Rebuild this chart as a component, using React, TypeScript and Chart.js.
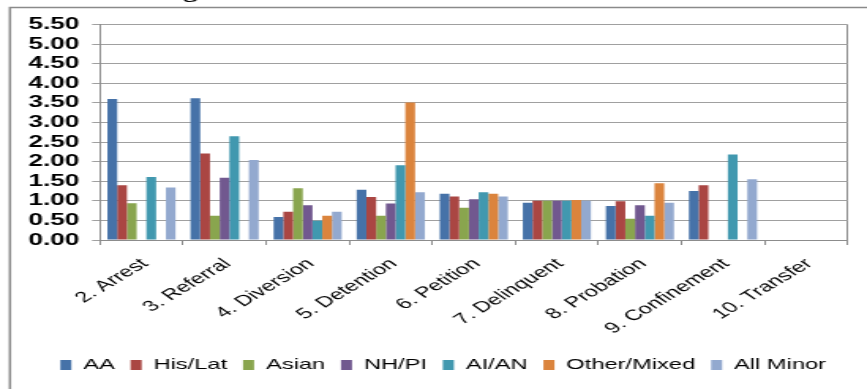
import React, { useEffect, useRef } from "react";
import { Chart, registerables } from "chart.js";

Chart.register(...registerables);

const categories = [
  "2. Arrest",
  "3. Referral",
  "4. Diversion",
  "5. Detention",
  "6. Petition",
  "7. Delinquent",
  "8. Probation",
  "9. Confinement",
  "10. Transfer",
];

const seriesNames = ["AA", "His/Lat", "Asian", "NH/PI", "AI/AN", "Other/Mixed", "All Minor"];
const seriesColors = ["#4672A8", "#AA4643", "#89A54E", "#71588F", "#4198AF", "#DB843D", "#93A9CF"];

const aa = [3.6, 3.62, 0.59, 1.28, 1.18, 0.95, 0.87, 1.25, null];
const hisLat = [1.4, 2.21, 0.72, 1.1, 1.11, 1.0, 0.99, 1.4, null];
const asian = [0.94, 0.62, 1.32, 0.62, 0.82, 1.0, 0.54, null, null];
const nhPi = [null, 1.59, 0.89, 0.93, 1.04, 1.0, 0.89, null, null];
const aiAn = [1.61, 2.65, 0.49, 1.91, 1.22, 1.0, 0.62, 2.18, null];
const otherMixed = [null, null, 0.62, 3.51, 1.18, 1.02, 1.45, null, null];
const allMinor = [1.34, 2.04, 0.72, 1.22, 1.11, 1.0, 0.95, 1.55, null];

const seriesValues = [aa, hisLat, asian, nhPi, aiAn, otherMixed, allMinor];

const yMin = 0;
const yMax = 5.5;
const yStep = 0.5;

const headerText = "Figure 1 below shows Statewide RRI";

const W = 549;
const H = 389;
const SX = 867 / W;

const framePlugin = {
  id: "frame",
  afterLayout(chart: any) {
    const lg = chart.legend;
    if (lg) {
      lg.left += 12.3;
      lg.right += 12.3;
    }
  },
  beforeDraw(chart: any) {
    const ctx = chart.ctx;
    ctx.save();
    ctx.strokeStyle = "#8a8a8a";
    ctx.lineWidth = 1.5;
    ctx.beginPath();
    ctx.moveTo(6.3, H);
    ctx.lineTo(6.3, 7.5);
    ctx.lineTo(W, 7.5);
    ctx.stroke();
    ctx.fillStyle = "#000";
    ctx.font = 'bold 18px "Liberation Serif"';
    ctx.textBaseline = "alphabetic";
    ctx.textAlign = "left";
    ctx.fillText(headerText, 100, -2);
    ctx.restore();
  },
};

export default function App() {
  const ref = useRef<HTMLCanvasElement | null>(null);

  useEffect(() => {
    if (!ref.current) return;
    const gray = "#8c8c8c";
    const chart = new Chart(ref.current, {
      type: "bar",
      data: {
        labels: categories,
        datasets: seriesNames.map((name, i) => ({
          label: name,
          data: seriesValues[i],
          backgroundColor: seriesColors[i],
          borderWidth: 0,
          barPercentage: 1,
          categoryPercentage: 0.82,
        })),
      },
      options: {
        responsive: false,
        animation: false,
        devicePixelRatio: 1,
        layout: { padding: { left: 0, right: 12.3, top: 24.5, bottom: 6.5 } },
        plugins: {
          title: { display: false },
          tooltip: { enabled: false },
          legend: {
            position: "bottom",
            labels: {
              boxWidth: 7,
              boxHeight: 10,
              padding: 10,
              color: "#000",
              font: { family: "Liberation Sans", size: 15 },
            },
          },
        },
        scales: {
          x: {
            afterFit: (s: any) => {
              s.height = 107.5;
            },
            grid: {
              offset: true,
              drawOnChartArea: true,
              drawTicks: true,
              tickLength: 5,
              color: (c: any) => (c.type === "tick" && c.index !== 0 ? "rgba(0,0,0,0)" : gray),
              tickColor: gray,
              lineWidth: 1,
            },
            border: { display: true, color: gray },
            ticks: {
              autoSkip: false,
              maxRotation: 43,
              minRotation: 43,
              padding: 10,
              labelOffset: 2,
              color: "#000",
              font: { family: "Liberation Sans", size: 15 },
            },
          },
          y: {
            min: yMin,
            max: yMax,
            afterFit: (s: any) => {
              s.width = 63.3;
            },
            grid: {
              color: "#a0a0a0",
              tickLength: 5,
              drawTicks: true,
              lineWidth: 1,
            },
            border: { display: true, color: gray },
            ticks: {
              stepSize: yStep,
              autoSkip: false,
              padding: 8,
              color: "#000",
              font: { family: "Liberation Sans", size: 16.6, weight: "bold" },
              callback: (v: any) => Number(v).toFixed(2),
            },
          },
        },
      },
      plugins: [framePlugin],
    });
    return () => chart.destroy();
  }, []);

  return (
    <div
      style={{
        position: "absolute",
        left: 0,
        top: 0,
        width: 867,
        height: 389,
        overflow: "hidden",
        background: "#fff",
      }}
    >
      <div style={{ width: W, height: H, transform: `scaleX(${SX})`, transformOrigin: "0 0" }}>
        <canvas ref={ref} width={W} height={H} style={{ display: "block" }} />
      </div>
    </div>
  );
}
